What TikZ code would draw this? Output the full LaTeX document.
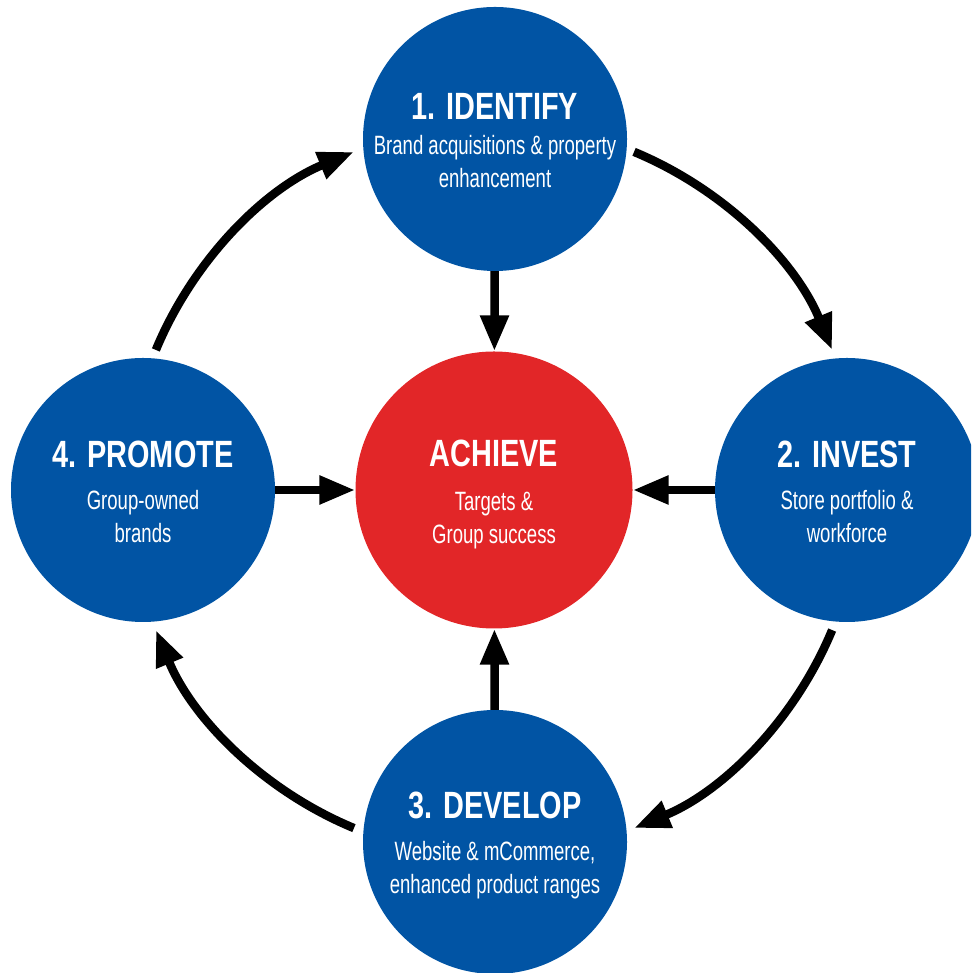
\documentclass[tikz,border=0pt]{standalone}
\usepackage{fontspec}
\usetikzlibrary{arrows.meta,calc}
\newfontfamily\headfont{Liberation Sans Bold}[FakeStretch=0.76]
\newfontfamily\bodyfont{Liberation Sans}[FakeStretch=0.70]
\definecolor{cycleblue}{RGB}{1,84,164}
\definecolor{goalred}{RGB}{226,38,40}
\tikzset{
  stage/.style={circle, fill=cycleblue, minimum size=264pt, inner sep=0pt},
  goal/.style={circle, fill=goalred, minimum size=277pt, inner sep=0pt},
  headtxt/.style={anchor=base, text=white, inner sep=0pt, font=\headfont\fontsize{38}{40}\selectfont},
  % base anchor of a two-line label sits on its last line
  bodytxt/.style={anchor=base, text=white, inner sep=0pt, align=center, font=\bodyfont\fontsize{26.5}{33}\selectfont},
  flow/.style={line width=8.5pt, -{Triangle[length=36pt,width=27pt]}},
}
\begin{document}
\begin{tikzpicture}[x=1pt,y=1pt]
\useasboundingbox (0,0) rectangle (971,973);
\clip (0,0) rectangle (971,973);

% the four stages and the central goal
\node[stage] (identify) at (495,834) {};
\node[stage] (invest)   at (847,483) {};
\node[stage] (develop)  at (495,131) {};
\node[stage] (promote)  at (143,483) {};
\node[goal]  (achieve)  at (494,483) {};

% labels
\node[headtxt] (identifyH) at ([yshift=19pt]identify.center) {1. IDENTIFY};
\node[bodytxt] (identifyB) at ([yshift=-49pt]identify.center) {Brand acquisitions \& property\\enhancement};
\node[headtxt] (investH) at ([yshift=22pt]invest.center) {2. INVEST};
\node[bodytxt] (investB) at ([yshift=-53pt]invest.center) {Store portfolio \&\\workforce};
\node[headtxt] (developH) at ([yshift=23pt]develop.center) {3. DEVELOP};
\node[bodytxt] (developB) at ([yshift=-52pt]develop.center) {Website \& mCommerce,\\enhanced product ranges};
\node[headtxt] (promoteH) at ([yshift=22pt]promote.center) {4. PROMOTE};
\node[bodytxt] (promoteB) at ([yshift=-53pt]promote.center) {Group-owned\\brands};
\node[headtxt] (achieveH) at ([yshift=23pt]achieve.center) {ACHIEVE};
\node[bodytxt] (achieveB) at ([yshift=-54pt]achieve.center) {Targets \&\\Group success};

% every stage feeds the goal
\draw[flow] (identify) -- (achieve);
\draw[flow] (invest)   -- (achieve);
\draw[flow] (develop)  -- (achieve);
\draw[flow] (promote)  -- (achieve);

% the cycle around the goal
\coordinate (ring) at (achieve.center);
\coordinate (c1) at ($(ring)+(67.5:366pt)$);
\coordinate (c2) at ($(ring)+(-22.5:366pt)$);
\coordinate (c3) at ($(ring)+(-112.5:366pt)$);
\coordinate (c4) at ($(ring)+(157.5:366pt)$);
\draw[flow] (c1) arc[start angle=67.5,  end angle=22.5,   radius=366pt];
\draw[flow] (c2) arc[start angle=-22.5, end angle=-67.5,  radius=366pt];
\draw[flow] (c3) arc[start angle=-112.5,end angle=-157.5, radius=366pt];
\draw[flow] (c4) arc[start angle=157.5, end angle=112.5,  radius=366pt];
\end{tikzpicture}
\end{document}
